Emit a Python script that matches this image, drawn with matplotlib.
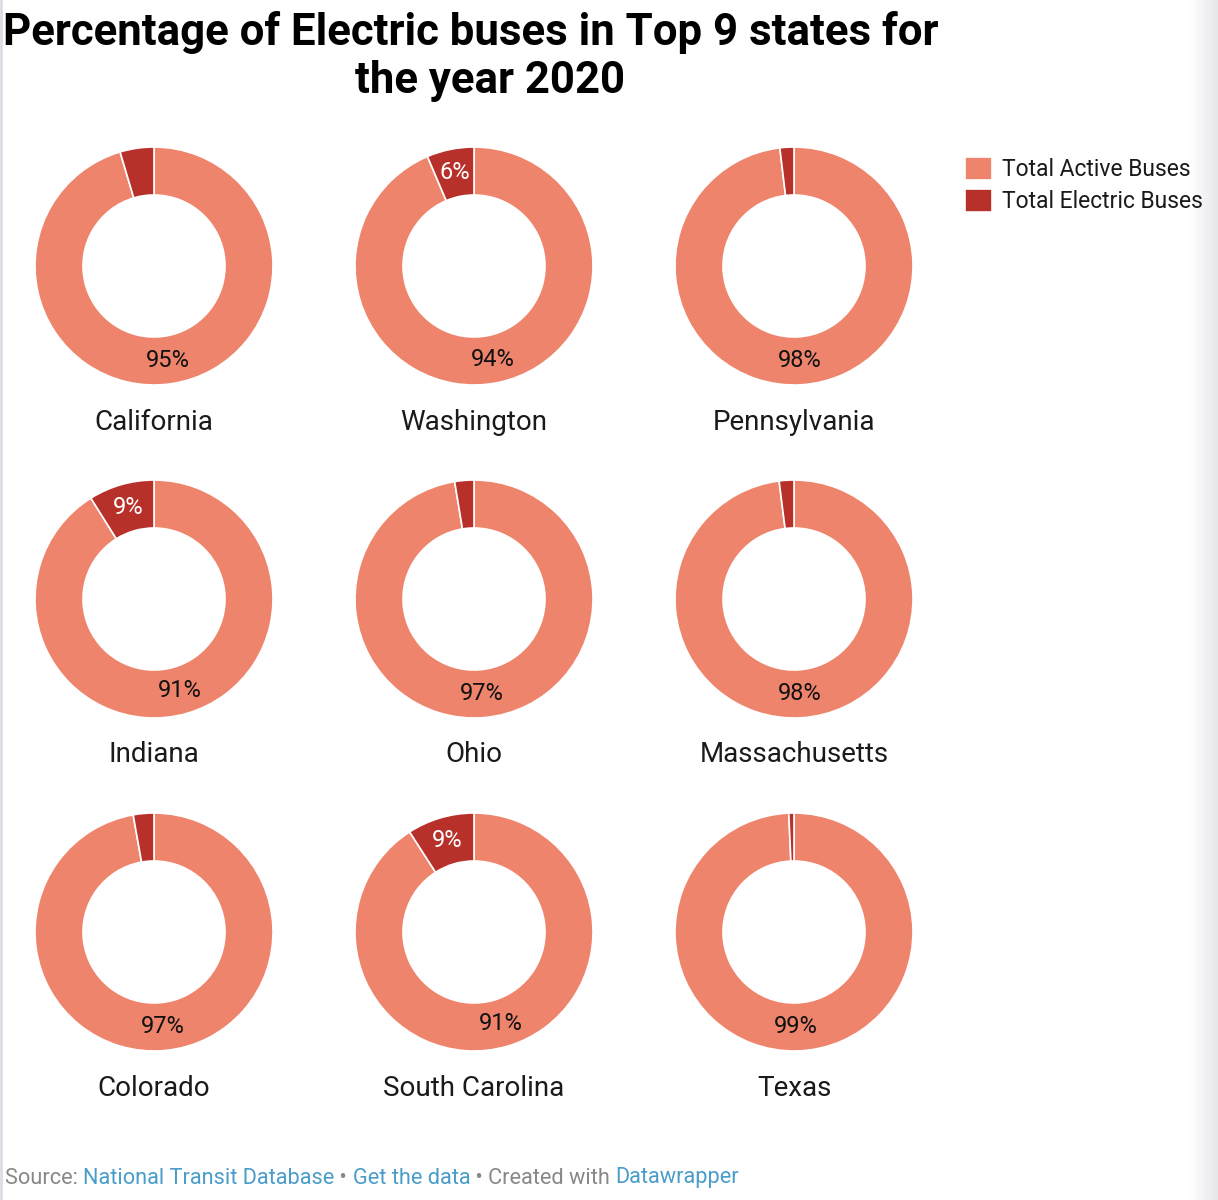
import numpy as np
import matplotlib.pyplot as plt

# shares of the bus fleet (%)
states = ["California", "Washington", "Pennsylvania",
          "Indiana", "Ohio", "Massachusetts",
          "Colorado", "South Carolina", "Texas"]
active_pct = [95.4, 93.6, 98.1, 91.1, 97.4, 98.0, 97.2, 90.9, 99.3]
electric_pct = [4.6, 6.4, 1.9, 8.9, 2.6, 2.0, 2.8, 9.1, 0.7]
series_names = ["Total Active Buses", "Total Electric Buses"]

ACTIVE = "#EF846C"
ELECTRIC = "#B7312A"
W, H = 1218, 1200

plt.rcParams['font.family'] = ['Roboto', 'DejaVu Sans']

fig = plt.figure(figsize=(W / 100, H / 100), dpi=100)

# page edge shading on the right, drawn underneath everything
grad = np.linspace(0, 1, 64).reshape(1, -1)
gax = fig.add_axes([1190 / W, 0, 28 / W, 1])
gax.imshow(grad, aspect="auto", cmap=plt.matplotlib.colors.LinearSegmentedColormap.from_list(
    "edge", ["#ffffff", "#e6e7ea"]))
gax.axis("off")
gax.set_zorder(0)

ax = fig.add_axes([0, 0, 1, 1])
ax.set_zorder(1)
ax.patch.set_alpha(0)

col_x = [154, 474, 794]
row_y = [266, 599, 932]
r_out, ring = 119, 48
label_r = (r_out - ring / 2) / r_out

wedges = None
for i, name in enumerate(states):
    cx = col_x[i % 3]
    cy = H - row_y[i // 3]
    vals = [active_pct[i], electric_pct[i]]
    w, _, autotexts = ax.pie(
        vals, center=(cx, cy), radius=r_out, startangle=90, counterclock=False,
        colors=[ACTIVE, ELECTRIC],
        wedgeprops=dict(width=ring, edgecolor="white", linewidth=1.2),
        autopct=lambda p: f"{p:.0f}%" if p >= 6 else "",
        pctdistance=label_r, frame=True,
        textprops=dict(fontsize=17))
    autotexts[0].set_color("#111111")
    autotexts[1].set_color("white")
    if wedges is None:
        wedges = w
    ax.text(cx, cy - 156, name, ha="center", va="center",
            fontsize=20, color="#1a1a1a")

ax.set_xlim(0, W)
ax.set_ylim(0, H)
ax.set_aspect("equal")
ax.axis("off")

# title
ax.text(471, H - 32, "Percentage of Electric buses in Top 9 states for",
        ha="center", va="center", fontsize=31.5, fontweight="bold", color="black")
ax.text(490, H - 81, "the year 2020",
        ha="center", va="center", fontsize=31.5, fontweight="bold", color="black")

# legend
ax.legend(wedges, series_names, loc="upper left",
          bbox_to_anchor=(965 / W, 1 - 157 / H), frameon=False,
          fontsize=16.5, handlelength=1.18, handleheight=1.18,
          handletextpad=0.45, labelspacing=0.32, borderaxespad=0, borderpad=0,
          labelcolor="#1a1a1a")

# footer
pieces = [("Source: ", "#888888"), ("National Transit Database", "#4A9DC9"),
          (" \u2022 ", "#888888"), ("Get the data", "#4A9DC9"),
          (" \u2022 Created with ", "#888888"), ("Datawrapper", "#4A9DC9")]
renderer = fig.canvas.get_renderer()
x = 5
for txt, col in pieces:
    t = ax.text(x, H - 1178, txt, ha="left", va="center", fontsize=15.7, color=col)
    bb = t.get_window_extent(renderer=renderer)
    x += bb.width

ax.plot([1, 1], [0, H], color="#dcdde2", lw=2)

fig.savefig("out.png", dpi=100, facecolor="white")
